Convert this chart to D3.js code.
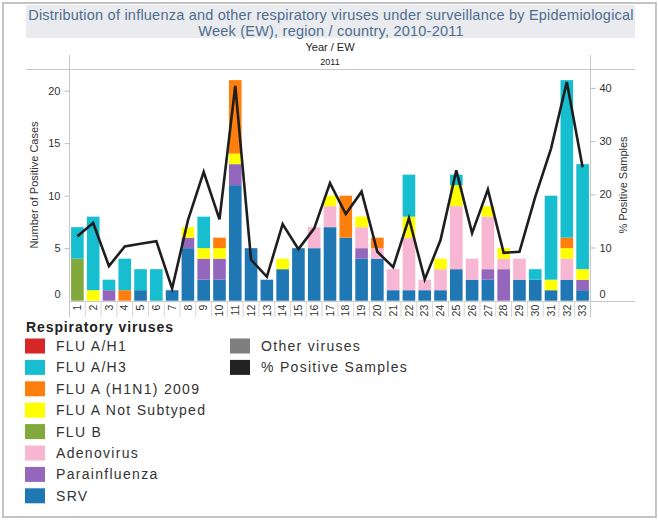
<!DOCTYPE html>
<html><head><meta charset="utf-8">
<script src="https://cdn.jsdelivr.net/npm/d3@7"></script>
<style>body{margin:0;background:#fff}svg{display:block;font-family:"Liberation Sans",Arial,sans-serif}</style>
</head><body><svg id="c" width="658" height="520"></svg>
<script>
const weeks = d3.range(1, 34).map(String);
const SRV         = [0,0,0,0,1,0,1,5,2,2,11,5,2,3,5,5,7,6,4,4,1,1,1,1,3,2,2,0,2,2,1,2,1];
const Parainfl    = [0,0,1,0,0,0,0,1,2,2,2,0,0,0,0,0,0,0,1,0,0,0,0,0,0,0,1,3,0,0,0,0,1];
const Adenovirus  = [0,0,0,0,0,0,0,0,0,0,0,0,0,0,0,2,2,0,2,1,2,5,1,2,6,2,5,1,2,0,0,2,0];
const FLUB        = [4,0,0,0,0,0,0,0,0,0,0,0,0,0,0,0,0,0,0,0,0,0,0,0,0,0,0,0,0,0,0,0,0];
const FLUA_NS     = [0,1,0,0,0,0,0,1,1,1,1,0,0,1,0,0,1,0,1,0,0,2,0,1,2,0,1,1,0,0,1,1,1];
const FLUA_H1N1   = [0,0,0,1,0,0,0,0,0,1,7,0,0,0,0,0,0,4,0,1,0,0,0,0,0,0,0,0,0,0,0,1,0];
const FLUA_H3     = [3,7,1,3,2,3,0,0,3,0,0,0,0,0,0,0,0,0,0,0,0,4,0,0,1,0,0,0,0,1,8,15,10];
const FLUA_H1     = [0,0,0,0,0,0,0,0,0,0,0,0,0,0,0,0,0,0,0,0,0,0,0,0,0,0,0,0,0,0,0,0,0];
const Other       = [0,0,0,0,0,0,0,0,0,0,0,0,0,0,0,0,0,0,0,0,0,0,0,0,0,0,0,0,0,0,0,0,0];
const pctPositive = [12.1,14.6,6.5,10.2,10.7,11.2,2.3,15.1,24.2,15.3,40.4,7.7,4.5,14.4,9.7,13.6,22.1,16.3,20.5,9.2,6.3,15.5,4.0,11.4,24.5,12.7,20.9,9.0,9.2,19.5,28.6,41.1,25.1];
const leftTicks = [0,5,10,15,20];
const rightTicks = [0,10,20,30,40];

const series = [
  {name:"SRV", values:SRV, color:"#1f77b4"},
  {name:"Parainfluenza", values:Parainfl, color:"#9467bd"},
  {name:"Adenovirus", values:Adenovirus, color:"#f7b6d2"},
  {name:"FLU B", values:FLUB, color:"#82a93b"},
  {name:"FLU A Not Subtyped", values:FLUA_NS, color:"#ffff00"},
  {name:"FLU A (H1N1) 2009", values:FLUA_H1N1, color:"#ff7f0e"},
  {name:"FLU A/H3", values:FLUA_H3, color:"#17becf"},
  {name:"FLU A/H1", values:FLUA_H1, color:"#d62728"},
  {name:"Other viruses", values:Other, color:"#7f7f7f"}
];
const legendCol1 = ["FLU A/H1","FLU A/H3","FLU A (H1N1) 2009","FLU A Not Subtyped","FLU B","Adenovirus","Parainfluenza","SRV"];
const legendCol2 = ["Other viruses","% Positive Samples"];
const lineColor = "#1e1e1e";

const rows = weeks.map((w,i)=>{const o={week:w}; series.forEach(s=>o[s.name]=s.values[i]); return o;});
const svg = d3.select("#c");
const X0 = 69.5, X1 = 590.5, Y0 = 300.7, YT = 69.3;
const x = d3.scaleBand().domain(weeks).range([X0, X1]).paddingInner(0.2).paddingOuter(0.1);
const yL = d3.scaleLinear().domain([0, 22.03]).range([Y0, YT]);
const yR = d3.scaleLinear().domain([0, 43.5]).range([Y0, YT]);
const colorOf = Object.fromEntries(series.map(s=>[s.name,s.color]));
colorOf["% Positive Samples"] = "#222";

// outer border
svg.append("rect").attr("x",3).attr("y",3).attr("width",653).attr("height",514)
  .attr("fill","none").attr("stroke","#c4c4c4").attr("stroke-width",2);
// title box
svg.append("rect").attr("x",26).attr("y",5).attr("width",609).attr("height",33).attr("fill","#e9ebef");
const title = svg.append("text").attr("x",331).attr("text-anchor","middle").attr("fill","#4f6d8e")
  .style("font-size","14.5px").style("letter-spacing","0.22px");
title.append("tspan").attr("x",331).attr("y",20).text("Distribution of influenza and other respiratory viruses under surveillance by Epidemiological");
title.append("tspan").attr("x",331).attr("y",36).text("Week (EW), region / country, 2010-2011");

svg.append("text").attr("x",330).attr("y",51).attr("text-anchor","middle").attr("fill","#222").style("font-size","11px").text("Year  /  EW");
svg.append("text").attr("x",330).attr("y",65).attr("text-anchor","middle").attr("fill","#222").style("font-size","9px").text("2011");

// header lines
const g = svg.append("g").attr("stroke","#c8c8c8").attr("stroke-width",1);
g.append("line").attr("x1",26).attr("x2",635).attr("y1",69.5).attr("y2",69.5);
g.append("line").attr("x1",69.5).attr("x2",69.5).attr("y1",55).attr("y2",317);
g.append("line").attr("x1",590.5).attr("x2",590.5).attr("y1",55).attr("y2",317);
g.append("line").attr("x1",69.5).attr("x2",635).attr("y1",301.5).attr("y2",301.5);
// x separators
weeks.forEach((w,i)=>{
  const xx = X0 + i*(X1-X0)/weeks.length;
  if(i>0) g.append("line").attr("x1",xx).attr("x2",xx).attr("y1",301.5).attr("y2",317).attr("stroke","#d6d6d6");
});

// bars
const stack = d3.stack().keys(series.map(s=>s.name))(rows);
svg.append("g").selectAll("g").data(stack).join("g").attr("fill",d=>colorOf[d.key])
  .selectAll("rect").data(d=>d).join("rect")
  .attr("x",d=>x(d.data.week)).attr("width",x.bandwidth())
  .attr("y",d=>yL(d[1])).attr("height",d=>yL(d[0])-yL(d[1]));

// line
const line = d3.line().x((d,i)=>x(weeks[i])+x.bandwidth()/2).y(d=>yR(d));
svg.append("path").datum(pctPositive).attr("d",line).attr("fill","none")
  .attr("stroke",lineColor).attr("stroke-width",2.6).attr("stroke-linejoin","miter");

// left axis
const la = svg.append("g").attr("transform",`translate(${X0},0)`)
  .call(d3.axisLeft(yL).tickValues(leftTicks).tickSize(5).tickPadding(4));
la.select(".domain").remove();
la.selectAll("line").attr("stroke","#bbb");
la.selectAll("text").attr("fill","#333").style("font-size","11px").style("font-family","'Liberation Sans',Arial,sans-serif")
  .attr("dy",d=>d===0?"-0.25em":"0.32em");
la.selectAll(".tick").filter(d=>d===0).select("line").remove();
// right axis
const ra = svg.append("g").attr("transform",`translate(${X1},0)`)
  .call(d3.axisRight(yR).tickValues(rightTicks).tickSize(5).tickPadding(4));
ra.select(".domain").remove();
ra.selectAll("line").attr("stroke","#bbb");
ra.selectAll("text").attr("fill","#333").style("font-size","11px").style("font-family","'Liberation Sans',Arial,sans-serif")
  .attr("dy",d=>d===0?"-0.25em":"0.32em");
ra.selectAll(".tick").filter(d=>d===0).select("line").remove();
// bottom axis labels
const ba = svg.append("g").attr("transform",`translate(0,${Y0})`)
  .call(d3.axisBottom(x).tickSize(0).tickPadding(0));
ba.select(".domain").remove();
ba.selectAll("text").attr("fill","#333").style("font-size","10.5px").style("font-family","'Liberation Sans',Arial,sans-serif")
  .attr("transform","rotate(-90)").attr("text-anchor","end").attr("x",-4).attr("y",0).attr("dy","0.35em");

// axis titles
svg.append("text").attr("transform","translate(38,185) rotate(-90)").attr("text-anchor","middle")
  .attr("fill","#333").style("font-size","11px").text("Number of Positive Cases");
svg.append("text").attr("transform","translate(627,185) rotate(-90)").attr("text-anchor","middle")
  .attr("fill","#333").style("font-size","11px").text("% Positive Samples");

// legend
svg.append("text").attr("x",26).attr("y",332).attr("fill","#222").style("font-size","14px").style("font-weight","bold")
  .style("letter-spacing","0.9px").text("Respiratory viruses");
const leg = (names, sx, tx) => names.forEach((n,i)=>{
  const cy = 346 + i*21.4;
  svg.append("rect").attr("x",sx).attr("y",cy-7.5).attr("width",20).attr("height",15).attr("fill",colorOf[n]);
  svg.append("text").attr("x",tx).attr("y",cy+5).attr("fill","#333").style("font-size","14px")
    .style("letter-spacing","1.3px").text(n);
});
leg(legendCol1, 25, 56);
leg(legendCol2, 230, 261);
</script></body></html>
